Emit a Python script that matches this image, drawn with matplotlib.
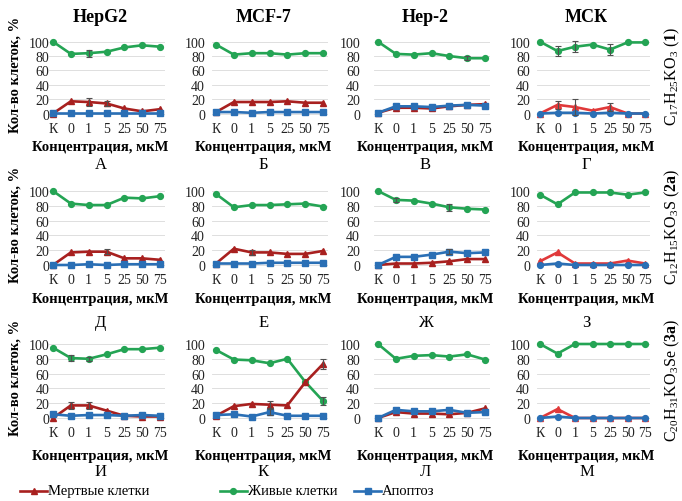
import numpy as np
import matplotlib
matplotlib.use("Agg")
import matplotlib.pyplot as plt
from matplotlib.lines import Line2D

plt.rcParams['font.family'] = ['Liberation Serif', 'DejaVu Serif']
plt.rcParams['mathtext.fontset'] = 'custom'
plt.rcParams['mathtext.rm'] = 'Liberation Serif'
plt.rcParams['mathtext.bf'] = 'Liberation Serif:bold'

# --- data (panels in row order А..М) ---
concentrations = ['К', '0', '1', '5', '25', '50', '75']
cell_lines = ['HepG2', 'MCF-7', 'Hep-2', 'МСК']
compounds = [r'C$_{17}$H$_{25}$KO$_{3}$ ($\mathbf{1}$)',
             r'C$_{12}$H$_{15}$KO$_{3}$S ($\mathbf{2a}$)',
             r'C$_{20}$H$_{31}$KO$_{3}$Se ($\mathbf{3a}$)']
panel_letters = ['А', 'Б', 'В', 'Г', 'Д', 'Е', 'Ж', 'З', 'И', 'К', 'Л', 'М']

live = [
    [100, 83, 84, 86, 92, 95, 93],
    [96, 82, 84, 84, 82, 84, 84],
    [100, 83, 82, 84, 80, 77, 77],
    [100, 87, 93, 96, 89, 99, 99],
    [100, 83, 81, 81, 91, 90, 93],
    [96, 78, 81, 81, 82, 83, 79],
    [100, 88, 87, 83, 78, 76, 75],
    [95, 82, 98, 98, 98, 95, 98],
    [95, 81, 80, 86, 93, 93, 95],
    [92, 79, 78, 74, 80, 49, 23],
    [100, 80, 84, 85, 83, 86, 79],
    [100, 87, 100, 100, 100, 100, 100],
]
dead = [
    [0, 17, 16, 14, 7, 3, 6],
    [2, 16, 16, 16, 17, 15, 15],
    [1, 8, 8, 7, 10, 12, 13],
    [0, 12, 9, 4, 9, 0, 0],
    [0, 17, 18, 18, 9, 9, 7],
    [2, 22, 17, 17, 15, 15, 19],
    [0, 2, 2, 3, 5, 8, 8],
    [5, 17, 2, 2, 2, 6, 2],
    [0, 17, 17, 10, 3, 2, 2],
    [3, 16, 19, 18, 17, 48, 73],
    [0, 8, 6, 6, 5, 7, 13],
    [0, 12, 0, 0, 0, 0, 0],
]
apoptosis = [
    [1, 1, 1, 1, 1, 1, 1],
    [2, 2, 1, 2, 2, 2, 2],
    [1, 10, 10, 9, 11, 12, 11],
    [0, 1, 1, 0, 1, 0, 0],
    [0, 0, 1, 0, 1, 1, 1],
    [2, 2, 2, 3, 3, 3, 3],
    [0, 11, 11, 14, 18, 16, 17],
    [0, 2, 0, 0, 0, 0, 0],
    [5, 3, 4, 4, 3, 4, 3],
    [4, 5, 2, 8, 3, 3, 3],
    [0, 11, 9, 9, 11, 7, 8],
    [0, 2, 0, 0, 0, 0, 0],
]
live_err = [
    [0, 0, 5, 0, 0, 0, 0],
    [0, 0, 0, 0, 0, 0, 0],
    [0, 0, 0, 0, 0, 3, 0],
    [0, 7, 8, 0, 8, 0, 0],
    [0, 0, 0, 0, 0, 0, 0],
    [0, 0, 0, 0, 0, 0, 0],
    [0, 3, 0, 0, 5, 0, 0],
    [0, 0, 0, 0, 0, 0, 0],
    [0, 4, 3, 0, 0, 0, 0],
    [0, 0, 0, 0, 0, 0, 5],
    [0, 0, 0, 0, 0, 0, 0],
    [0, 0, 0, 0, 0, 0, 0],
]
dead_err = [
    [0, 0, 5, 3, 0, 0, 0],
    [0, 0, 0, 0, 0, 0, 0],
    [0, 0, 0, 0, 0, 0, 0],
    [0, 6, 11, 0, 6, 0, 0],
    [0, 0, 0, 3, 0, 0, 0],
    [0, 0, 3, 0, 0, 0, 0],
    [0, 0, 0, 0, 0, 0, 0],
    [0, 0, 0, 0, 0, 0, 0],
    [0, 5, 5, 0, 0, 0, 0],
    [0, 0, 0, 5, 0, 0, 7],
    [0, 0, 0, 0, 0, 0, 0],
    [0, 0, 0, 0, 0, 0, 0],
]
apop_err = [
    [0] * 7, [0] * 7, [0] * 7, [0] * 7,
    [0] * 7, [0] * 7, [0, 0, 0, 0, 3, 0, 0], [0] * 7,
    [0] * 7, [0, 0, 0, 4, 0, 0, 0], [0] * 7, [0] * 7,
]

# --- layout in pixels ---
W, H = 682, 502
col_k = [53, 216, 378, 540]       # x of first category
col_75 = [160, 323, 485, 645]     # x of last category
label_right = [50, 205, 360, 530]  # right edge of y tick labels
row_100 = [42.7, 192, 345]
row_0 = [114.5, 266, 419]
xlabel_y = [148, 300, 457]
letter_y = [165, 323, 472]

RED = '#a8201f'
RED_MSC = '#e0393a'
GREEN = '#24a454'
BLUE = '#2a6fb5'

fig = plt.figure(figsize=(W / 100, H / 100), dpi=100)


def draw_series(ax, x, y, err, color, marker):
    ax.plot(x, y, color=color, lw=1.9, marker=marker, ms=4.2, clip_on=False, zorder=3)
    e = np.array(err)
    idx = np.nonzero(e)[0]
    if len(idx):
        ax.errorbar(x[idx], np.array(y)[idx], yerr=e[idx], fmt='none',
                    ecolor='#505050', elinewidth=0.8, capsize=2, capthick=0.8, zorder=4)


x = np.arange(len(concentrations))
for r in range(3):
    for c in range(4):
        i = r * 4 + c
        ux = (col_75[c] - col_k[c]) / 6
        uy = (row_0[r] - row_100[r]) / 100
        left = col_k[c] - 0.2 * ux
        right = col_k[c] + 6.3 * ux
        top = row_100[r] - 2 * uy
        bottom = row_0[r] + 2 * uy
        ax = fig.add_axes([left / W, 1 - bottom / H, (right - left) / W, (bottom - top) / H])
        ax.set_xlim(-0.2, 6.3)
        ax.set_ylim(-2, 102)
        for s in ax.spines.values():
            s.set_visible(False)
        ax.set_yticks([0, 20, 40, 60, 80, 100])
        ax.yaxis.grid(True, color='#d9d9d9', lw=0.6)
        ax.set_axisbelow(True)
        ax.set_xticks(x)
        ax.set_xticklabels(concentrations)
        pad = max(left - label_right[c], 0) * 0.72
        ax.tick_params(axis='y', length=0, pad=pad, labelsize=10, labelcolor='#222222')
        ax.tick_params(axis='x', length=0, pad=5, labelsize=10, labelcolor='#222222')

        red = RED_MSC if c == 3 else RED
        blue_marker = 'o' if c == 3 else 's'
        draw_series(ax, x, live[i], live_err[i], GREEN, 'o')
        draw_series(ax, x, dead[i], dead_err[i], red, '^')
        draw_series(ax, x, apoptosis[i], apop_err[i], BLUE, blue_marker)

        cx = (col_k[c] + col_75[c]) / 2 - 6
        fig.text(cx / W, 1 - xlabel_y[r] / H, 'Концентрация, мкМ', ha='center', va='center',
                 fontsize=10.5, fontweight='bold')
        fig.text(cx / W, 1 - letter_y[r] / H, panel_letters[i], ha='center', va='center',
                 fontsize=12)
        if r == 0:
            fig.text(cx / W, 1 - 18 / H, cell_lines[c], ha='center', va='center',
                     fontsize=13, fontweight='bold')

    yc = (row_100[r] + row_0[r]) / 2 - 4
    fig.text(15 / W, 1 - yc / H, 'Кол-во клеток, %', rotation=90, ha='center', va='center',
             fontsize=10.5, fontweight='bold')
    fig.text(672 / W, 1 - (yc + 2) / H, compounds[r], rotation=90, ha='center', va='center',
             fontsize=11.5)

# legend drawn by hand to match spacing
legend_items = [('Мертвые клетки', RED, '^', 20),
                ('Живые клетки', GREEN, 'o', 220),
                ('Апоптоз', BLUE, 's', 354)]
ly = 1 - 492 / H
for label, color, marker, x0 in legend_items:
    fig.add_artist(Line2D([x0 / W, (x0 + 27) / W], [ly, ly], color=color, lw=1.9,
                          transform=fig.transFigure))
    fig.add_artist(Line2D([(x0 + 13.5) / W], [ly], color=color, marker=marker, ms=4.2,
                          transform=fig.transFigure))
    fig.text((x0 + 28) / W, ly, label, ha='left', va='center', fontsize=10.5)

fig.savefig('out.png', dpi=100)
